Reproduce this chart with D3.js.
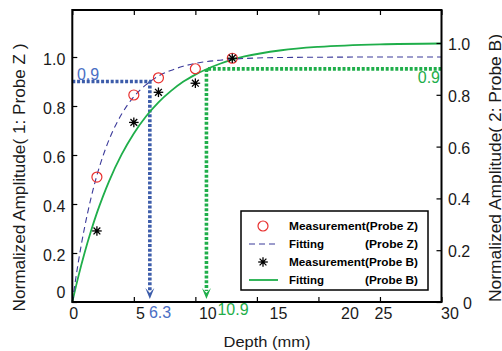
<!DOCTYPE html>
<html><head><meta charset="utf-8">
<script src="https://cdn.jsdelivr.net/npm/d3@7"></script>
<style>body{margin:0;background:#fff}svg{display:block;font-family:Arial,"Liberation Sans",sans-serif}</style>
</head><body><svg id="c" width="502" height="351"></svg>
<script>
// ---- data ----
const depthMeas = [2, 5, 7, 10, 13];
const ampProbeZ = [0.51, 0.845, 0.915, 0.952, 0.995];
const ampProbeB = [0.29, 0.733, 0.856, 0.893, 0.995];
const fitDepth  = [0, 0.5, 1, 1.5, 2, 2.5, 3, 4, 5, 6, 7, 8, 9, 10, 12, 14, 17, 20, 25, 30];
const fitProbeZ = [0, 0.166, 0.305, 0.420, 0.517, 0.597, 0.664, 0.766, 0.838, 0.887, 0.922, 0.945, 0.962, 0.974, 0.987, 0.994, 0.998, 0.999, 1.0, 1.0];
const fitProbeB = [0, 0.100, 0.190, 0.271, 0.344, 0.409, 0.468, 0.569, 0.651, 0.717, 0.771, 0.814, 0.850, 0.878, 0.920, 0.948, 0.972, 0.985, 0.995, 0.998];
const xTicks = [0, 5, 10, 15, 20, 25, 30];
const yTicks = [0, 0.2, 0.4, 0.6, 0.8, 1.0];
const level90 = 0.9;
const depthZ90 = 6.3, depthB90 = 10.9;
const legendItems = ["Measurement(Probe Z)", "Fitting", "Measurement(Probe B)", "Fitting"];
const legendProbes = ["", "(Probe Z)", "", "(Probe B)"];

// ---- layout ----
const svg = d3.select("#c");
const L = 72.3, R = 441.5, T = 10, B = 302;
const x = d3.scaleLinear().domain([0, 30]).range([L, R]);
const yL = d3.scaleLinear().domain([0, 1]).range([B, 57]);
const yR = d3.scaleLinear().domain([0, 1]).range([B, 43]);
const BLUE = "#3c5caa", BLUE_T = "#4a6ec4", GREEN = "#1fae4a", PURPLE = "#3b3a9a", RED = "#e8302f";

// dotted annotation lines
function dotted(pts, color) {
  svg.append("path").attr("d", d3.line()(pts)).attr("fill", "none")
    .attr("stroke", color).attr("stroke-width", 3.6).attr("stroke-dasharray", "3,1.8");
}
const arrowTip = B - 3;
dotted([[x(0), yL(level90)], [x(depthZ90), yL(level90)], [x(depthZ90), arrowTip - 8]], BLUE);
dotted([[x(30), yR(level90)], [x(depthB90), yR(level90)], [x(depthB90), arrowTip - 8]], GREEN);
function arrowHead(cx, color) {
  svg.append("path")
    .attr("d", `M${cx - 4.5},${arrowTip - 11} L${cx},${arrowTip - 6} L${cx + 4.5},${arrowTip - 11} L${cx},${arrowTip} Z`)
    .attr("fill", color);
}
arrowHead(x(depthZ90), BLUE);
arrowHead(x(depthB90), GREEN);

// fitting curves
const lineZ = d3.line().x((d, i) => x(fitDepth[i])).y(d => yL(d)).curve(d3.curveMonotoneX);
const lineB = d3.line().x((d, i) => x(fitDepth[i])).y(d => yR(d)).curve(d3.curveMonotoneX);
svg.append("path").attr("d", lineB(fitProbeB)).attr("fill", "none").attr("stroke", GREEN).attr("stroke-width", 1.8);
svg.append("path").attr("d", lineZ(fitProbeZ)).attr("fill", "none").attr("stroke", PURPLE)
  .attr("stroke-width", 1.1).attr("stroke-dasharray", "6,4");

// markers
function star(g, cx, cy) {
  const r = 4.8;
  for (let k = 0; k < 4; k++) {
    const a = k * Math.PI / 4;
    g.append("line").attr("x1", cx - r * Math.cos(a)).attr("y1", cy - r * Math.sin(a))
      .attr("x2", cx + r * Math.cos(a)).attr("y2", cy + r * Math.sin(a))
      .attr("stroke", "#000").attr("stroke-width", 1.3);
  }
  g.append("circle").attr("cx", cx).attr("cy", cy).attr("r", 1.8).attr("fill", "#000");
}
const mk = svg.append("g");
depthMeas.forEach((d, i) => {
  mk.append("circle").attr("cx", x(d)).attr("cy", yL(ampProbeZ[i])).attr("r", 5)
    .attr("fill", "none").attr("stroke", RED).attr("stroke-width", 1.2);
});
depthMeas.forEach((d, i) => star(mk, x(d), yL(ampProbeB[i])));

// frame + axes
svg.append("rect").attr("x", L).attr("y", T).attr("width", R - L).attr("height", B - T)
  .attr("fill", "none").attr("stroke", "#000").attr("stroke-width", 2);
const fmt = d => d === 0 ? "0" : d3.format(".1f")(d);
const gx = svg.append("g").attr("transform", `translate(0,${B})`)
  .call(d3.axisBottom(x).tickValues(xTicks).tickSizeInner(-5).tickSizeOuter(0).tickPadding(6).tickFormat(d3.format("d")));
const xShift = [1, 6, 12, 21, 31, 3, 8];
gx.selectAll(".tick text").attr("dx", (d, i) => xShift[i]);
svg.append("g").attr("transform", `translate(0,${T})`)
  .call(d3.axisTop(x).tickValues(xTicks).tickSizeInner(-5).tickSizeOuter(0).tickFormat(""));
const gl = svg.append("g").attr("transform", `translate(${L},0)`)
  .call(d3.axisLeft(yL).tickValues(yTicks).tickSizeInner(-5).tickSizeOuter(0).tickPadding(7).tickFormat(fmt));
gl.selectAll(".tick text").attr("dy", d => d === 0 ? "-0.3em" : "0.45em");
const gr = svg.append("g").attr("transform", `translate(${R},0)`)
  .call(d3.axisRight(yR).tickValues(yTicks).tickSizeInner(-5).tickSizeOuter(0).tickPadding(6.5).tickFormat(fmt));
gr.selectAll(".tick text").attr("dy", "0.4em").attr("dx", d => d === 0 ? 15 : 0);
[gx, gl, gr].forEach(g => {
  g.selectAll(".tick text").attr("font-size", 16).attr("fill", "#1a1a1a").attr("font-family", "Arial, 'Liberation Sans', sans-serif");
  g.select(".domain").remove();
});
svg.selectAll(".tick line").attr("stroke", "#000").attr("stroke-width", 1.2);

// annotation texts
svg.append("text").attr("x", 88).attr("y", 80).attr("text-anchor", "middle").attr("font-size", 16).attr("fill", BLUE_T).text(level90.toFixed(1));
svg.append("text").attr("x", 440).attr("y", 83).attr("text-anchor", "end").attr("font-size", 16).attr("fill", GREEN).text(level90.toFixed(1));
svg.append("text").attr("x", 160).attr("y", 318).attr("text-anchor", "middle").attr("font-size", 16).attr("fill", BLUE_T).text(depthZ90);
svg.append("text").attr("x", 233).attr("y", 315).attr("text-anchor", "middle").attr("font-size", 16).attr("fill", GREEN).text(depthB90);

// axis titles
svg.append("text").attr("x", 267).attr("y", 347).attr("text-anchor", "middle").attr("font-size", 15).attr("fill", "#1a1a1a")
  .attr("textLength", 87).attr("lengthAdjust", "spacingAndGlyphs").text("Depth (mm)");
svg.append("text").attr("transform", "translate(25,177.5) rotate(-90)").attr("text-anchor", "middle")
  .attr("font-size", 16).attr("fill", "#1a1a1a").attr("textLength", 268).attr("lengthAdjust", "spacingAndGlyphs")
  .text("Normalized Amplitude( 1: Probe Z )");
svg.append("text").attr("transform", "translate(501,168) rotate(-90)").attr("text-anchor", "middle")
  .attr("font-size", 16).attr("fill", "#1a1a1a").attr("textLength", 268).attr("lengthAdjust", "spacingAndGlyphs")
  .text("Normalized Amplitude( 2: Probe B)");

// legend
const lg = svg.append("g");
lg.append("rect").attr("x", 241).attr("y", 211).attr("width", 187).attr("height", 79)
  .attr("fill", "#fff").attr("stroke", "#000").attr("stroke-width", 1.5);
const rowY = i => 226 + i * 18;
lg.append("circle").attr("cx", 263).attr("cy", rowY(0)).attr("r", 5).attr("fill", "none").attr("stroke", RED).attr("stroke-width", 1.2);
lg.append("line").attr("x1", 249).attr("x2", 278).attr("y1", rowY(1)).attr("y2", rowY(1)).attr("stroke", PURPLE).attr("stroke-width", 1.1).attr("stroke-dasharray", "6,4");
star(lg, 263, rowY(2));
lg.append("line").attr("x1", 249).attr("x2", 278).attr("y1", rowY(3)).attr("y2", rowY(3)).attr("stroke", GREEN).attr("stroke-width", 1.8);
legendItems.forEach((t, i) => {
  lg.append("text").attr("x", 289).attr("y", rowY(i)).attr("dy", "0.36em").attr("font-size", 11.5).attr("font-weight", "bold")
    .attr("fill", "#000").attr("textLength", t.length > 10 ? 129 : 35).attr("lengthAdjust", "spacingAndGlyphs").text(t);
  if (legendProbes[i]) lg.append("text").attr("x", 365).attr("y", rowY(i)).attr("dy", "0.36em").attr("font-size", 11.5).attr("font-weight", "bold")
    .attr("fill", "#000").attr("textLength", 53).attr("lengthAdjust", "spacingAndGlyphs").text(legendProbes[i]);
});
</script></body></html>
